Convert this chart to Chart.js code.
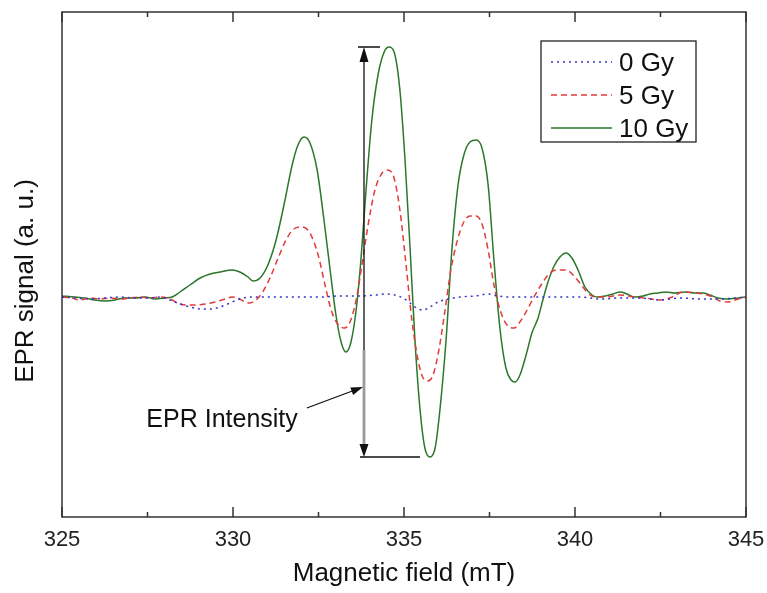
<!DOCTYPE html>
<html>
<head>
<meta charset="utf-8">
<script src="https://cdn.jsdelivr.net/npm/chart.js@4.4.0/dist/chart.umd.min.js"></script>
<style>
  html, body { margin: 0; padding: 0; background: #fff; }
  #wrap { width: 767px; height: 593px; }
</style>
</head>
<body>
<div id="wrap"><canvas id="eprChart"></canvas></div>
<script>
const FONT = "'Liberation Sans', Arial, Helvetica, sans-serif";

// 0 Gy spectrum (field in mT, signal in a.u.)
const field0 = [325.00, 325.38, 325.82, 326.26, 326.70, 327.13, 327.57, 327.87, 328.16, 328.45, 328.74, 329.04, 329.33, 329.62, 329.91, 330.20, 330.50, 330.94, 331.37, 331.96, 332.54, 333.13, 333.71, 334.15, 334.44, 334.74, 334.97, 335.18, 335.41, 335.56, 335.76, 335.99, 336.29, 336.64, 337.08, 337.46, 337.75, 338.10, 338.54, 338.98, 339.56, 340.15, 340.73, 341.32, 341.90, 342.49, 343.07, 343.65, 344.24, 344.68, 345.00];
const signal0 = [0, -1, -2, -1, 0, -1, -1, 0, -3, -7, -10, -12, -12, -10, -6, -2, 0, 0, 0, 0, 0, 1, 1, 2, 3, 2, -1, -6, -12, -13, -10, -5, -2, 0, 1, 3, 1, 0, 0, 0, 0, 0, -2, -1, -1, -3, -1, -2, -2, -1, 0];

// 5 Gy spectrum
const field5 = [325.00, 325.29, 325.53, 325.82, 326.11, 326.40, 326.70, 326.99, 327.28, 327.57, 327.87, 328.16, 328.39, 328.63, 328.89, 329.18, 329.47, 329.77, 329.97, 330.15, 330.35, 330.50, 330.67, 330.85, 331.08, 331.32, 331.55, 331.78, 332.02, 332.25, 332.49, 332.69, 332.87, 333.04, 333.25, 333.42, 333.60, 333.77, 333.95, 334.15, 334.36, 334.53, 334.71, 334.88, 335.06, 335.23, 335.41, 335.56, 335.70, 335.85, 336.02, 336.20, 336.37, 336.58, 336.75, 336.93, 337.11, 337.28, 337.46, 337.63, 337.81, 338.01, 338.22, 338.39, 338.60, 338.80, 339.01, 339.21, 339.44, 339.74, 340.00, 340.23, 340.44, 340.64, 340.88, 341.11, 341.32, 341.70, 342.05, 342.49, 342.84, 343.16, 343.57, 343.95, 344.24, 344.47, 344.77, 345.00];
const signal5 = [0, -1, -3, -1, -2, -1, -2, -1, 0, -1, 0, -2, -6, -8, -8, -7, -5, -2, 0, -1, -5, -6, -3, 4, 19, 39, 57, 68, 70, 64, 42, 12, -13, -26, -31, -25, -3, 32, 72, 107, 124, 127, 119, 87, 32, -23, -63, -81, -84, -78, -53, -13, 27, 59, 75, 81, 81, 73, 47, 12, -13, -28, -31, -25, -13, 0, 12, 22, 27, 27, 20, 10, 2, 0, 0, 1, 2, 0, -1, -3, 0, 5, 4, 1, -4, -5, -2, 0];

// 10 Gy spectrum
const field10 = [325.00, 325.38, 325.67, 325.96, 326.26, 326.55, 326.84, 327.13, 327.43, 327.72, 328.01, 328.22, 328.45, 328.74, 329.04, 329.33, 329.62, 329.97, 330.20, 330.44, 330.58, 330.79, 331.02, 331.26, 331.49, 331.73, 331.90, 332.08, 332.25, 332.46, 332.66, 332.84, 333.01, 333.16, 333.30, 333.45, 333.60, 333.74, 333.89, 334.06, 334.24, 334.42, 334.56, 334.71, 334.88, 335.03, 335.18, 335.32, 335.47, 335.61, 335.76, 335.91, 336.05, 336.23, 336.40, 336.58, 336.75, 336.93, 337.11, 337.28, 337.46, 337.63, 337.81, 337.98, 338.13, 338.25, 338.39, 338.57, 338.74, 338.92, 339.06, 339.21, 339.39, 339.56, 339.74, 339.91, 340.09, 340.29, 340.50, 340.64, 340.88, 341.11, 341.32, 341.52, 341.75, 341.99, 342.19, 342.43, 342.66, 342.92, 343.22, 343.51, 343.74, 343.95, 344.18, 344.47, 344.77, 345.00];
const signal10 = [1, 0, -1, -3, -4, -3, -1, -1, 0, -2, -1, 0, 5, 12, 19, 23, 25, 27, 25, 20, 16, 19, 32, 57, 92, 132, 152, 160, 154, 127, 77, 27, -18, -45, -55, -45, -13, 37, 107, 177, 222, 245, 250, 245, 207, 137, 47, -43, -113, -151, -160, -151, -113, -43, 47, 112, 142, 155, 157, 149, 112, 37, -33, -71, -83, -85, -78, -58, -36, -21, -3, 15, 31, 40, 44, 39, 27, 10, 2, 0, 1, 3, 5, 3, 0, 1, 3, 4, 5, 4, 5, 4, 4, 2, -1, -2, -1, 0];

const seriesLabels = ['0 Gy', '5 Gy', '10 Gy'];
const majorTicks = [325, 330, 335, 340, 345];
const minorTicks = [327.5, 332.5, 337.5, 342.5];

// "EPR Intensity" marker, in data units
const markerField = 333.83;
const labelField = 329.68;
const labelSignal = -123;
const pointerFrom = [332.16, -111];

const colors = ['#3434c8', '#e23b3b', '#2b772b'];
const dashes = [[2, 4], [6, 4], []];

function toPoints(xs, ys) {
    return xs.map((x, i) => ({ x: x, y: ys[i] }));
}

function arrowHead(ctx, x1, y1, x2, y2, len, half) {
    const ang = Math.atan2(y2 - y1, x2 - x1);
    ctx.beginPath();
    ctx.moveTo(x2, y2);
    ctx.lineTo(x2 - len * Math.cos(ang) + half * Math.sin(ang), y2 - len * Math.sin(ang) - half * Math.cos(ang));
    ctx.lineTo(x2 - len * Math.cos(ang) - half * Math.sin(ang), y2 - len * Math.sin(ang) + half * Math.cos(ang));
    ctx.closePath();
    ctx.fill();
}

// Frame, inward ticks, y title, marker arrows and boxed legend
const decorations = {
    id: 'decorations',
    afterDatasetsDraw(chart) {
        const { ctx, chartArea: a, scales: { x, y } } = chart;
        ctx.save();

        ctx.strokeStyle = '#333';
        ctx.lineWidth = 1.5;
        ctx.strokeRect(a.left, a.top, a.right - a.left, a.bottom - a.top);

        const tick = (v, len) => {
            const px = x.getPixelForValue(v);
            ctx.beginPath();
            ctx.moveTo(px, a.bottom); ctx.lineTo(px, a.bottom - len);
            ctx.moveTo(px, a.top); ctx.lineTo(px, a.top + len);
            ctx.stroke();
        };
        majorTicks.forEach(v => tick(v, 10));
        minorTicks.forEach(v => tick(v, 5));

        // y axis title
        ctx.save();
        ctx.translate(26, 281);
        ctx.rotate(-Math.PI / 2);
        ctx.fillStyle = '#111';
        ctx.font = '26px ' + FONT;
        ctx.textAlign = 'center';
        ctx.textBaseline = 'middle';
        ctx.fillText('EPR signal (a. u.)', 0, 0);
        ctx.restore();

        // intensity marker: peak-to-peak of the 10 Gy line
        const top = Math.max(...signal10);
        const bottom = Math.min(...signal10);
        const mx = x.getPixelForValue(markerField);
        const yTop = y.getPixelForValue(top);
        const yBot = y.getPixelForValue(bottom);
        const ySplit = y.getPixelForValue(-53);
        ctx.fillStyle = '#111';
        ctx.strokeStyle = '#111';
        ctx.lineWidth = 1.3;
        ctx.beginPath();
        ctx.moveTo(mx - 6, yTop); ctx.lineTo(mx + 16, yTop);
        ctx.moveTo(mx - 4, yBot); ctx.lineTo(mx + 56, yBot);
        ctx.moveTo(mx, yTop + 10); ctx.lineTo(mx, ySplit);
        ctx.stroke();
        ctx.strokeStyle = '#9a9a9a';
        ctx.lineWidth = 2.8;
        ctx.beginPath();
        ctx.moveTo(mx, ySplit); ctx.lineTo(mx, yBot - 10);
        ctx.stroke();
        arrowHead(ctx, mx, yTop + 20, mx, yTop, 15, 4.5);
        arrowHead(ctx, mx, yBot - 20, mx, yBot, 13, 4.5);

        // pointer from label
        const px1 = x.getPixelForValue(pointerFrom[0]);
        const py1 = y.getPixelForValue(pointerFrom[1]);
        const px2 = mx - 1;
        const py2 = y.getPixelForValue(-90);
        ctx.strokeStyle = '#111';
        ctx.lineWidth = 1.3;
        ctx.beginPath();
        ctx.moveTo(px1, py1); ctx.lineTo(px2 - 8, py2 + 3);
        ctx.stroke();
        arrowHead(ctx, px1, py1, px2, py2, 12, 4);

        ctx.font = '25px ' + FONT;
        ctx.textAlign = 'center';
        ctx.textBaseline = 'middle';
        ctx.fillText('EPR Intensity', x.getPixelForValue(labelField), y.getPixelForValue(labelSignal));

        // legend box
        const bx = a.right - 205, by = a.top + 29, bw = 155, bh = 101;
        ctx.strokeStyle = '#222';
        ctx.lineWidth = 1.3;
        ctx.strokeRect(bx, by, bw, bh);
        ctx.font = '26px ' + FONT;
        ctx.textAlign = 'left';
        ctx.textBaseline = 'alphabetic';
        seriesLabels.forEach((lab, i) => {
            const ry = by + 21 + i * 33;
            ctx.strokeStyle = colors[i];
            ctx.lineWidth = 1.6;
            ctx.setLineDash(dashes[i]);
            ctx.beginPath();
            ctx.moveTo(bx + 10, ry); ctx.lineTo(bx + 71, ry);
            ctx.stroke();
            ctx.setLineDash([]);
            ctx.fillStyle = '#111';
            ctx.fillText(lab, bx + 78, ry + 9);
        });

        ctx.restore();
    }
};

const ctx = document.getElementById('eprChart').getContext('2d');
new Chart(ctx, {
    type: 'line',
    data: {
        datasets: [
            { label: seriesLabels[0], data: toPoints(field0, signal0) },
            { label: seriesLabels[1], data: toPoints(field5, signal5) },
            { label: seriesLabels[2], data: toPoints(field10, signal10) }
        ].map((ds, i) => Object.assign(ds, {
            borderColor: colors[i],
            borderWidth: 1.5,
            borderDash: dashes[i],
            pointRadius: 0,
            fill: false,
            cubicInterpolationMode: 'monotone'
        }))
    },
    options: {
        responsive: true,
        maintainAspectRatio: false,
        animation: false,
        devicePixelRatio: 1,
        layout: { padding: { top: 12, right: 21, left: 0, bottom: 0 } },
        plugins: { legend: { display: false }, tooltip: { enabled: false } },
        scales: {
            x: {
                type: 'linear',
                min: 325,
                max: 345,
                grid: { display: false, drawTicks: false },
                border: { display: false },
                ticks: {
                    stepSize: 5,
                    padding: 10,
                    color: '#222',
                    font: { family: FONT, size: 22 },
                    maxRotation: 0,
                    callback: v => v.toFixed(0)
                },
                title: {
                    display: true,
                    text: 'Magnetic field (mT)',
                    color: '#111',
                    font: { family: FONT, size: 26 },
                    padding: { top: 0, bottom: 4 }
                },
                afterFit: s => { s.height = 76; s.paddingLeft = 0; s.paddingRight = 0; }
            },
            y: {
                min: -220,
                max: 285,
                grid: { display: false, drawTicks: false },
                border: { display: false },
                ticks: { display: false },
                afterFit: s => { s.width = 62; }
            }
        }
    },
    plugins: [decorations]
});
</script>
</body>
</html>
